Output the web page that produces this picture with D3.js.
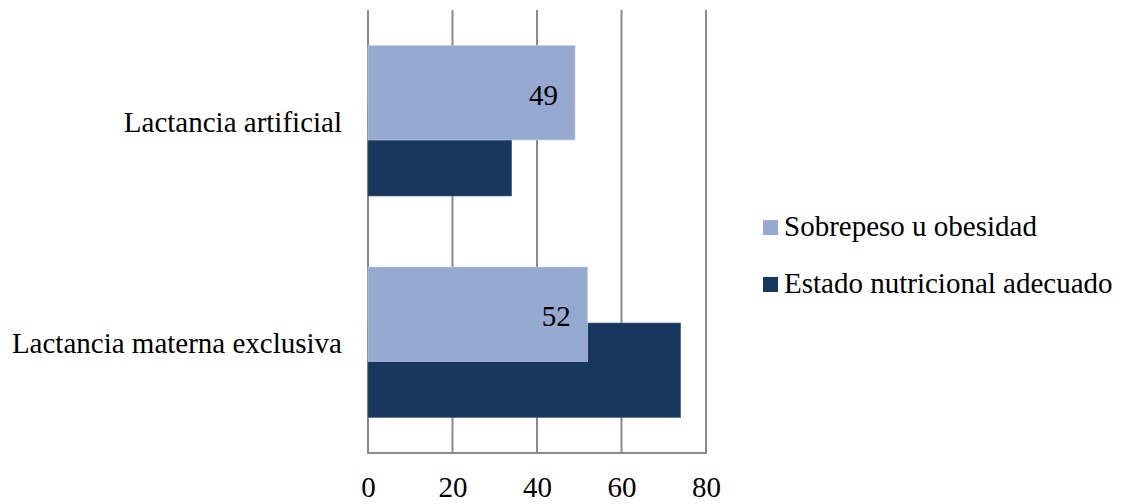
<!DOCTYPE html>
<html>
<head>
<meta charset="utf-8">
<script src="https://cdn.jsdelivr.net/npm/d3@7/dist/d3.min.js"></script>
<style>
  html, body { margin: 0; padding: 0; background: #fff; }
  svg { display: block; }
</style>
</head>
<body>
<svg id="chart" width="1122" height="504"></svg>
<script>
// Feeding type categories (top to bottom)
const categories = ["Lactancia artificial", "Lactancia materna exclusiva"];
// Series names, in legend order
const seriesNames = ["Sobrepeso u obesidad", "Estado nutricional adecuado"];
const seriesColors = ["#95a9d1", "#17375e"];
// Values per series, aligned with categories
const sobrepeso = [49, 52];
const adecuado = [34, 74];
const xTicks = [0, 20, 40, 60, 80];

const FONT = "'Liberation Serif'";
const fontSize = 29;

const svg = d3.select("#chart")
  .style("font-family", FONT)
  .style("font-size", fontSize + "px");

const x = d3.scaleLinear().domain([0, 80]).range([368, 706]);
const y = d3.scaleBand().domain(categories).range([10, 453]);

const bw = y.bandwidth();
const barH = bw * 0.4266;
const shift = bw * 0.1264;

function styleText(sel) {
  return sel.style("font-family", FONT)
    .style("font-size", fontSize + "px")
    .attr("fill", "#000");
}

// Vertical gridlines
svg.append("g")
  .selectAll("line")
  .data(xTicks)
  .join("line")
  .attr("x1", d => x(d)).attr("x2", d => x(d))
  .attr("y1", y.range()[0]).attr("y2", y.range()[1])
  .attr("stroke", "#8a8a8a").attr("stroke-width", 2);

// Bottom axis line
svg.append("line")
  .attr("x1", x(0) - 1).attr("x2", x(80) + 1)
  .attr("y1", y.range()[1]).attr("y2", y.range()[1])
  .attr("stroke", "#8a8a8a").attr("stroke-width", 2);

// X tick labels
const xAxis = d3.axisBottom(x).tickValues(xTicks).tickSize(0).tickPadding(0);
const gx = svg.append("g").attr("transform", "translate(0,497)").call(xAxis);
gx.attr("font-family", null).attr("font-size", null);
gx.select(".domain").remove();
gx.selectAll("text").attr("dy", null).attr("y", 0).call(styleText);

// Category labels
svg.append("g")
  .selectAll("text")
  .data(categories)
  .join("text")
  .attr("x", 342)
  .attr("y", d => y(d) + bw / 2 + 11)
  .attr("text-anchor", "end")
  .call(styleText)
  .text(d => d);

// Dark series first, light series drawn over it
const rows = categories.map((c, i) => ({ c, s: sobrepeso[i], a: adecuado[i] }));

svg.append("g")
  .selectAll("rect")
  .data(rows)
  .join("rect")
  .attr("x", x(0))
  .attr("y", d => y(d.c) + bw / 2 + shift - barH / 2)
  .attr("width", d => x(d.a) - x(0))
  .attr("height", barH)
  .attr("fill", seriesColors[1])
  .attr("stroke", "#4a6488").attr("stroke-width", 0.6);

svg.append("g")
  .selectAll("rect")
  .data(rows)
  .join("rect")
  .attr("x", x(0))
  .attr("y", d => y(d.c) + bw / 2 - shift - barH / 2)
  .attr("width", d => x(d.s) - x(0))
  .attr("height", barH)
  .attr("fill", seriesColors[0])
  .attr("stroke", "#c9d4ea").attr("stroke-width", 0.6);

// Value labels on the light series
svg.append("g")
  .selectAll("text")
  .data(rows)
  .join("text")
  .attr("x", d => x(d.s) - 17)
  .attr("y", d => y(d.c) + bw / 2 - shift + 12)
  .attr("text-anchor", "end")
  .call(styleText)
  .text(d => d.s);

// Legend
const legend = svg.append("g")
  .selectAll("g")
  .data(seriesNames)
  .join("g")
  .attr("transform", (d, i) => `translate(763,${220 + i * 57})`);
legend.append("rect")
  .attr("width", 15).attr("height", 15)
  .attr("fill", (d, i) => seriesColors[i]);
legend.append("text")
  .attr("x", 21).attr("y", 16)
  .call(styleText)
  .text(d => d);
</script>
</body>
</html>
